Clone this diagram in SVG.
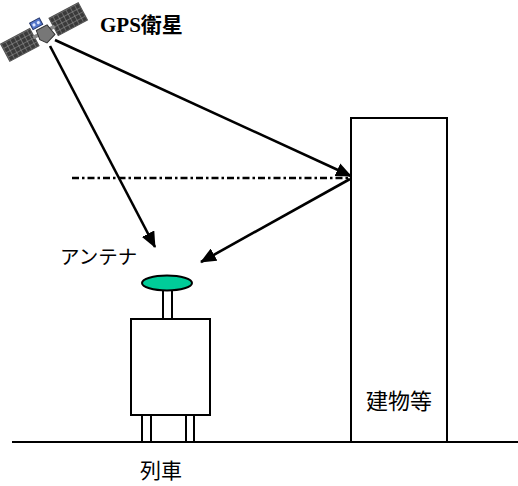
<svg xmlns="http://www.w3.org/2000/svg" width="518" height="486" viewBox="0 0 518 486">
  <style>
    .outline { fill: #ffffff; stroke: #000000; stroke-width: 2; }
    .ray { fill: none; stroke: #000000; stroke-width: 2.6; }
    .label { font-family: "Noto Sans CJK JP", "Noto Sans", sans-serif; fill: #000000; }
    .serif { font-family: "Liberation Serif", "Noto Sans CJK JP", serif; fill: #000000; font-weight: bold; }
  </style>
  <defs>
    <marker id="arrow" markerUnits="userSpaceOnUse" markerWidth="16" markerHeight="14" refX="15" refY="7" orient="auto">
      <path d="M0,0 L16,7 L0,14 z" fill="#000000"/>
    </marker>
    <pattern id="cells" patternUnits="userSpaceOnUse" width="4" height="4">
      <rect width="4" height="4" fill="#3a3a3a"/>
      <path d="M0,0 H4 M0,0 V4" stroke="#a0a0a0" stroke-width="0.8"/>
    </pattern>
  </defs>

  <!-- ground -->
  <line x1="12" y1="442" x2="518" y2="442" stroke="#000000" stroke-width="2"/>

  <!-- satellite -->
  <g id="satellite" transform="translate(44,32) rotate(-28) scale(1.22)">
    <rect x="-36" y="-8" width="27" height="16" fill="url(#cells)" stroke="#555555" stroke-width="1"/>
    <rect x="9" y="-8" width="27" height="16" fill="url(#cells)" stroke="#555555" stroke-width="1"/>
    <rect x="-10" y="-1.5" width="20" height="3" fill="#888888"/>
    <path d="M-5,-4 L5,-4 L7,6 L-2,9 L-6,4 z" fill="#777777" stroke="#333333" stroke-width="0.8"/>
    <rect x="-7" y="-12" width="9" height="6" fill="#5577cc" stroke="#223366" stroke-width="0.8"/>
    <circle cx="-4.5" cy="-9" r="1.3" fill="#dde6ff"/>
    <circle cx="-0.5" cy="-9" r="1.3" fill="#dde6ff"/>
  </g>
  <text class="serif" x="100" y="32" font-size="21">GPS衛星</text>

  <!-- building -->
  <g id="building">
    <rect class="outline" x="351" y="118" width="96" height="324"/>
    <text class="label" x="399" y="409" font-size="22" text-anchor="middle">建物等</text>
  </g>

  <!-- train with antenna -->
  <g id="train">
    <rect class="outline" x="142" y="415" width="9" height="27"/>
    <rect class="outline" x="186" y="415" width="8" height="27"/>
    <rect class="outline" x="131" y="319" width="79" height="96"/>
    <text class="label" x="161" y="478" font-size="21" text-anchor="middle">列車</text>
  </g>
  <g id="antenna">
    <rect class="outline" x="163" y="290" width="9" height="29"/>
    <ellipse cx="167" cy="283" rx="25" ry="7.5" fill="#00cc99" stroke="#000000" stroke-width="2"/>
    <text class="label" x="60" y="264" font-size="19.5">アンテナ</text>
  </g>

  <!-- signal paths -->
  <g id="connectors">
    <line x1="72" y1="178" x2="351" y2="178" stroke="#000000" stroke-width="2.6" stroke-dasharray="7 3 2.5 3"/>
    <line class="ray" x1="50" y1="46" x2="155" y2="247" marker-end="url(#arrow)"/>
    <line class="ray" x1="55" y1="40" x2="351" y2="176" marker-end="url(#arrow)"/>
    <line class="ray" x1="350" y1="179" x2="201" y2="262" marker-end="url(#arrow)"/>
  </g>
</svg>
